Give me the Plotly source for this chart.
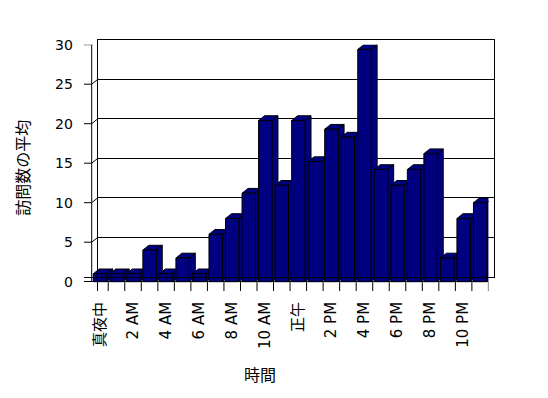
import plotly.graph_objects as go

# ---------------- data ----------------
hours = list(range(24))
tick_labels = ["真夜中", "", "2 AM", "", "4 AM", "", "6 AM", "", "8 AM", "", "10 AM", "",
               "正午", "", "2 PM", "", "4 PM", "", "6 PM", "", "8 PM", "", "10 PM", ""]
visits = [1, 1, 1, 4, 1, 3, 1, 6, 8, 11.2, 20.4, 12.2,
          20.4, 15.2, 19.3, 18.3, 29.4, 14.2, 12.2, 14.2, 16.2, 3, 8, 10]
y_ticks = [0, 5, 10, 15, 20, 25, 30]
x_title = "時間"
y_title = "訪問数の平均"

# ---------------- geometry (pixels in the page) ----------------
W, H = 548, 398
PAGE_OFF = 8            # default body margin of the html page
CAT_PX = 16.53          # width of one category on the front plane
X0_PX = 91.7            # left boundary of first category (front plane)
Y0_PX = 281.7           # value 0 on front plane
UNIT_PX = 7.9           # pixels per value unit
DX, DY = 6.0, 4.8       # depth offset of the 3-D look
FRONT_L = 84.0
FRONT_R = X0_PX + 24 * CAT_PX
FRONT_B = 291.0
FRONT_T = Y0_PX - 30 * UNIT_PX
BAR_W = 0.81
NAVY = "#000080"


def px_to_x(px):
    return -0.5 + (px - X0_PX) / CAT_PX


def px_to_y(py):
    return (Y0_PX - py) / UNIT_PX


def fx(px):
    return (px - PAGE_OFF) / W


def fy(py):
    return 1 - (py - PAGE_OFF) / H


dxu = DX / CAT_PX
dyu = DY / UNIT_PX
xr_front = [px_to_x(FRONT_L), px_to_x(FRONT_R)]
yr_front = [px_to_y(FRONT_B), 30]
dom_x_front = [fx(FRONT_L), fx(FRONT_R)]
dom_y_front = [fy(FRONT_B), fy(FRONT_T)]
dom_x_back = [fx(X0_PX + DX), fx(FRONT_R + DX)]
dom_y_back = [fy(Y0_PX - DY), fy(FRONT_T - DY)]

fig = go.Figure()

# back wall subplot (gridlines)
fig.add_trace(go.Scatter(x=[0], y=[0], mode="markers", marker=dict(opacity=0),
                         hoverinfo="skip", showlegend=False, xaxis="x", yaxis="y"))

# frame of the walls / floor (front coordinates)
xl = px_to_x(FRONT_L)
xR = 23.5
yb = yr_front[0]
fxs, fys = [], []
for t in y_ticks[1:]:
    fxs += [xl, -0.5, -0.5 + dxu, None]
    fys += [t, t, t + dyu, None]
fxs += [-0.5, -0.5, None, xl, xl + dxu * 0.9, -0.5 + dxu, None]
fys += [0, 30, None, 30, 30 + dyu, 30 + dyu, None]
# floor category boundaries
for h in hours:
    fxs += [h + 0.5, h + 0.5, None]
    fys += [yb, 0, None]
# right side
ox = px_to_x(502)
fxs += [xR, xR + dxu, None, xR, ox, ox, xR + dxu, None]
fys += [0, dyu, None, yb, px_to_y(281), px_to_y(35), 30 + dyu, None]
fig.add_trace(go.Scatter(x=fxs, y=fys, mode="lines", line=dict(color="black", width=1),
                         hoverinfo="skip", showlegend=False, cliponaxis=False,
                         xaxis="x2", yaxis="y2"))

# side and top faces of each column
for i, v in zip(hours, visits):
    l, r = i - BAR_W / 2, i + BAR_W / 2
    px_ = [r, r, r + dxu, r + dxu, r, None, l, r, r + dxu, l + dxu, l]
    py_ = [0, v, v + dyu, dyu, 0, None, v, v, v + dyu, v + dyu, v]
    fig.add_trace(go.Scatter(x=px_, y=py_, mode="lines", fill="toself", fillcolor=NAVY,
                             line=dict(color="black", width=1), hoverinfo="skip",
                             showlegend=False, xaxis="x2", yaxis="y2"))

# front faces
fig.add_trace(go.Bar(x=hours, y=visits, width=BAR_W, marker=dict(color=NAVY, line=dict(color="black", width=1)),
                     showlegend=False, xaxis="x3", yaxis="y3"))

tick_font = dict(family="DejaVu Sans, Noto Sans CJK JP", size=15, color="black")
fig.update_layout(
    width=W, height=H,
    margin=dict(l=0, r=0, t=0, b=0),
    paper_bgcolor="white", plot_bgcolor="rgba(0,0,0,0)",
    showlegend=False,
    xaxis=dict(domain=dom_x_back, range=[-0.5, 23.5], showgrid=False, zeroline=False,
               showticklabels=False, ticks="", showline=True, mirror=True,
               linecolor="black", linewidth=1, automargin=False),
    yaxis=dict(domain=dom_y_back, range=[0, 30], tickvals=y_ticks, showgrid=True,
               gridcolor="black", gridwidth=1, zeroline=False, showticklabels=False,
               ticks="", showline=True, mirror=True, linecolor="black", linewidth=1,
               automargin=False),
    xaxis2=dict(domain=dom_x_front, range=xr_front, visible=False, automargin=False),
    yaxis2=dict(domain=dom_y_front, range=yr_front, visible=False, automargin=False),
    xaxis3=dict(domain=dom_x_front, range=xr_front, tickmode="array", tickvals=hours,
                ticktext=tick_labels, tickangle=-90, tickfont=tick_font, ticks="",
                showgrid=False, zeroline=False, showline=True, linecolor="black",
                linewidth=1, ticklabelstandoff=18, automargin=False),
    yaxis3=dict(domain=dom_y_front, range=yr_front, tickvals=y_ticks,
                tickfont=dict(family="DejaVu Sans", size=14, color="black"), ticks="",
                showgrid=False, zeroline=True, zerolinecolor="black", zerolinewidth=1,
                showline=True, linecolor="black", linewidth=1, ticklabelstandoff=21,
                automargin=False,
                title=dict(text=y_title, font=dict(family="Noto Sans CJK JP", size=16, color="black"),
                           standoff=21)),
    annotations=[dict(text=x_title, xref="paper", yref="paper", x=fx(260), y=fy(374),
                      xanchor="center", yanchor="middle", showarrow=False,
                      font=dict(family="Noto Sans CJK JP", size=16, color="black"))],
)

fig.write_html("out.html")
